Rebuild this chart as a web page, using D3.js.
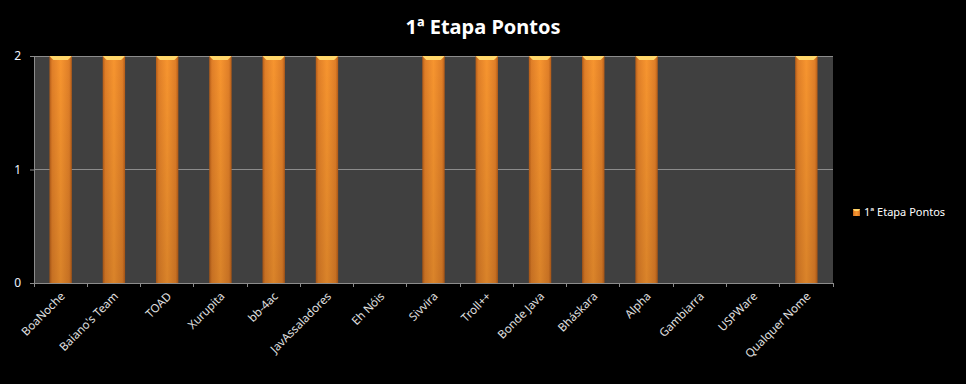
<!DOCTYPE html>
<html>
<head>
<meta charset="utf-8">
<script src="https://cdn.jsdelivr.net/npm/d3@7"></script>
<style>
  body { margin: 0; background: #000; }
  svg { display: block; font-family: "Noto Sans", sans-serif; }
</style>
</head>
<body>
<svg width="966" height="384"></svg>
<script>
const teams = ['BoaNoche', "Baiano's Team", 'TOAD', 'Xurupita', 'bb-4ac', 'JavAssaladores', 'Eh Nóis',
  'Sivvira', 'Troll++', 'Bonde Java', 'Bháskara', 'Alpha', 'Gambiarra', 'USPWare', 'Qualquer Nome'];
const pontos = [2, 2, 2, 2, 2, 2, 0, 2, 2, 2, 2, 2, 0, 0, 2];
const yTicks = [0, 1, 2];
const seriesName = '1ª Etapa Pontos';

const svg = d3.select('svg');
const plotL = 34, plotR = 833, plotT = 56, plotB = 283;

// gradients for the bevelled bars
const defs = svg.append('defs');
const gx = defs.append('linearGradient').attr('id', 'barX').attr('x1', 0).attr('x2', 1).attr('y1', 0).attr('y2', 0);
gx.append('stop').attr('offset', '0%').attr('stop-color', '#b55c18');
gx.append('stop').attr('offset', '12%').attr('stop-color', '#e07f28');
gx.append('stop').attr('offset', '50%').attr('stop-color', '#f7952f');
gx.append('stop').attr('offset', '88%').attr('stop-color', '#e07f28');
gx.append('stop').attr('offset', '100%').attr('stop-color', '#b55c18');
const gy = defs.append('linearGradient').attr('id', 'barY').attr('x1', 0).attr('x2', 0).attr('y1', 0).attr('y2', 1);
gy.append('stop').attr('offset', '0%').attr('stop-color', '#000').attr('stop-opacity', 0);
gy.append('stop').attr('offset', '100%').attr('stop-color', '#000').attr('stop-opacity', 0.12);

const x = d3.scaleBand().domain(teams).range([plotL, plotR]).paddingInner(0.58).paddingOuter(0.29);
const y = d3.scaleLinear().domain([0, 2]).range([plotB, plotT]);

svg.append('rect').attr('x', plotL).attr('y', plotT).attr('width', plotR - plotL).attr('height', plotB - plotT)
  .attr('fill', '#404040');

// grid
svg.append('g').selectAll('line').data(yTicks.slice(1)).join('line')
  .attr('x1', plotL).attr('x2', plotR).attr('y1', d => y(d)).attr('y2', d => y(d))
  .attr('stroke', '#8c8c8c').attr('stroke-width', 1).attr('shape-rendering', 'crispEdges');

// bars
const bars = svg.append('g').selectAll('g').data(teams.map((t, i) => ({t, v: pontos[i]})).filter(d => d.v > 0)).join('g');
bars.append('rect')
  .attr('x', d => x(d.t)).attr('y', d => y(d.v))
  .attr('width', x.bandwidth()).attr('height', d => y(0) - y(d.v))
  .attr('fill', 'url(#barX)');
bars.append('rect')
  .attr('x', d => x(d.t)).attr('y', d => y(d.v))
  .attr('width', x.bandwidth()).attr('height', d => y(0) - y(d.v))
  .attr('fill', 'url(#barY)');
bars.append('path')
  .attr('d', d => {
    const x0 = x(d.t), w = x.bandwidth(), t = y(d.v);
    return `M${x0},${t}H${x0 + w}L${x0 + w - 4},${t + 4}H${x0 + 4}Z`;
  })
  .attr('fill', '#ffd66a');

// axes
const yAxis = svg.append('g').attr('transform', `translate(${plotL},0)`)
  .call(d3.axisLeft(y).tickValues(yTicks).tickSize(4).tickFormat(d3.format('d')))
  .attr('font-family', '"Noto Sans", sans-serif');
yAxis.select('.domain').attr('stroke', '#8c8c8c');
yAxis.selectAll('.tick line').attr('stroke', '#8c8c8c');
yAxis.selectAll('.tick text').attr('fill', '#eef4ff').attr('font-size', 12).attr('x', -13);

const xAxis = svg.append('g').attr('transform', `translate(0,${plotB})`)
  .call(d3.axisBottom(x).tickSize(0).tickSizeOuter(0))
  .attr('font-family', '"Noto Sans", sans-serif');
xAxis.select('.domain').attr('stroke', '#8c8c8c');
xAxis.selectAll('.tick line').remove();
xAxis.selectAll('.tick text')
  .attr('fill', '#e0e0e0').attr('font-size', 11.5)
  .attr('text-anchor', 'end').attr('y', 0).attr('dy', 0)
  .attr('transform', 'translate(5,14) rotate(-45)');

// tick marks at band boundaries
svg.append('g').selectAll('line').data(d3.range(teams.length + 1)).join('line')
  .attr('x1', i => plotL + i * x.step()).attr('x2', i => plotL + i * x.step())
  .attr('y1', plotB).attr('y2', plotB + 4)
  .attr('stroke', '#8c8c8c').attr('shape-rendering', 'crispEdges');

// title
svg.append('text').attr('x', 483).attr('y', 34).attr('text-anchor', 'middle')
  .attr('fill', '#fff').attr('font-size', 20).attr('font-weight', 'bold').text(seriesName);

// legend
const lg = svg.append('g').attr('transform', 'translate(853,209)');
lg.append('rect').attr('width', 7).attr('height', 7).attr('fill', 'url(#barX)');
lg.append('path').attr('d', 'M0,0H7L5.5,2H1.5Z').attr('fill', '#ffd66a');
lg.append('text').attr('x', 11).attr('y', 7).attr('fill', '#fff').attr('font-size', 11).text(seriesName);
</script>
</body>
</html>
